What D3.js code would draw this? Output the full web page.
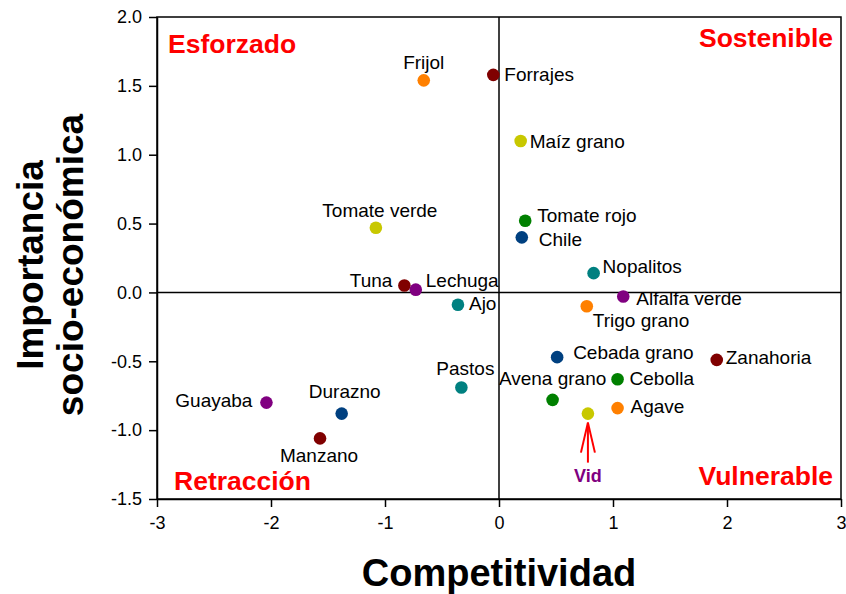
<!DOCTYPE html>
<html lang="es">
<head>
  <meta charset="UTF-8" />
  <title>Competitividad vs Importancia socio-económica</title>
  <script src="https://d3js.org/d3.v7.min.js"></script>
  <style>
    body { margin: 0; background: #fff; font-family: 'Liberation Sans', Arial, sans-serif; }
    .tick text { font-size: 18px; fill: #000; }
    .tick line, .domain { stroke: #000; stroke-width: 1.5px; }
    .lbl { font-size: 19px; fill: #000; }
    .quad { font-size: 26.5px; font-weight: bold; fill: #ff0000; }
    .title { font-size: 36px; font-weight: bold; fill: #000; }
  </style>
</head>
<body>
  <svg></svg>

  <script>
    // cultivos y coordenadas (competitividad, importancia)
    const crops = ["Frijol", "Forrajes", "Maíz grano", "Tomate verde", "Tomate rojo", "Chile",
      "Nopalitos", "Tuna", "Lechuga", "Ajo", "Alfalfa verde", "Trigo grano", "Cebada grano",
      "Zanahoria", "Pastos", "Avena grano", "Cebolla", "Agave", "Vid", "Durazno", "Manzano", "Guayaba"];
    const competitividad = [-0.66, -0.05, 0.19, -1.08, 0.23, 0.20, 0.83, -0.83, -0.73, -0.36, 1.09,
      0.77, 0.51, 1.91, -0.33, 0.47, 1.04, 1.04, 0.78, -1.38, -1.57, -2.04];
    const importancia = [1.54, 1.58, 1.10, 0.47, 0.52, 0.40, 0.14, 0.05, 0.02, -0.09, -0.03,
      -0.10, -0.47, -0.49, -0.69, -0.78, -0.63, -0.84, -0.88, -0.88, -1.06, -0.80];
    const colorGroup = ["orange", "darkred", "yellow", "yellow", "green", "blue", "teal", "darkred",
      "purple", "teal", "purple", "orange", "blue", "darkred", "teal", "green", "green", "orange",
      "yellow", "blue", "darkred", "purple"];

    const xTicks = [-3, -2, -1, 0, 1, 2, 3];
    const yTicks = [-1.5, -1.0, -0.5, 0.0, 0.5, 1.0, 1.5, 2.0];
    const quadrants = ["Esforzado", "Sostenible", "Retracción", "Vulnerable"];

    // dónde va cada etiqueta respecto a su punto: [anchor, dx, dy]
    const labelPos = {
      "Frijol": ["middle", 0, -11], "Forrajes": ["start", 11, 6], "Maíz grano": ["start", 9, 7],
      "Tomate verde": ["middle", 4, -11], "Tomate rojo": ["start", 12, 1], "Chile": ["start", 17, 9],
      "Nopalitos": ["start", 9, 0], "Tuna": ["end", -12, 1], "Lechuga": ["start", 10, -3],
      "Ajo": ["start", 11, 5], "Alfalfa verde": ["start", 13, 8], "Trigo grano": ["start", 6, 21],
      "Cebada grano": ["start", 16, 2], "Zanahoria": ["start", 9, 4], "Pastos": ["middle", 4, -12],
      "Avena grano": ["middle", 0, -15], "Cebolla": ["start", 12, 6], "Agave": ["start", 13, 5],
      "Durazno": ["middle", 3, -16], "Manzano": ["middle", -1, 24], "Guayaba": ["end", -14, 4]
    };
    const palette = {
      orange: "#ff8000", darkred: "#800000", yellow: "#c8c800", green: "#008000",
      blue: "#004080", teal: "#008080", purple: "#800080"
    };

    const W = 846, H = 594;
    const m = { top: 17, right: 5, bottom: 95, left: 157 };

    const svg = d3.select("svg").attr("width", W).attr("height", H);

    const x = d3.scaleLinear().domain([-3, 3]).range([m.left, W - m.right]);
    const y = d3.scaleLinear().domain([-1.5, 2]).range([H - m.bottom, m.top]);

    // marco
    svg.append("rect")
      .attr("x", x(-3)).attr("y", y(2))
      .attr("width", x(3) - x(-3)).attr("height", y(-1.5) - y(2))
      .attr("fill", "none").attr("stroke", "#000").attr("stroke-width", 1.5);

    svg.append("g")
      .attr("transform", `translate(0,${y(-1.5)})`)
      .call(d3.axisBottom(x).tickValues(xTicks).tickFormat(d => String(d))
        .tickSize(8).tickSizeOuter(0).tickPadding(9));

    svg.append("g")
      .attr("transform", `translate(${x(-3)},0)`)
      .call(d3.axisLeft(y).tickValues(yTicks).tickFormat(d => d.toFixed(1))
        .tickSize(8).tickSizeOuter(0).tickPadding(7));

    // ejes en cero
    svg.append("line")
      .attr("x1", x(0)).attr("x2", x(0)).attr("y1", y(2)).attr("y2", y(-1.5))
      .attr("stroke", "#000").attr("stroke-width", 1.5);
    svg.append("line")
      .attr("x1", x(-3)).attr("x2", x(3)).attr("y1", y(0)).attr("y2", y(0))
      .attr("stroke", "#000").attr("stroke-width", 1.5);

    // cuadrantes
    svg.append("text").attr("class", "quad").attr("x", 168).attr("y", 53).text(quadrants[0]);
    svg.append("text").attr("class", "quad").attr("x", 833).attr("y", 47)
      .attr("text-anchor", "end").text(quadrants[1]);
    svg.append("text").attr("class", "quad").attr("x", 174).attr("y", 490).text(quadrants[2]);
    svg.append("text").attr("class", "quad").attr("x", 833).attr("y", 485)
      .attr("text-anchor", "end").text(quadrants[3]);

    const data = crops.map((c, i) => ({
      name: c, cx: competitividad[i], cy: importancia[i], col: palette[colorGroup[i]]
    }));

    svg.append("g").selectAll("circle")
      .data(data)
      .join("circle")
      .attr("cx", d => x(d.cx))
      .attr("cy", d => y(d.cy))
      .attr("r", 6.3)
      .attr("fill", d => d.col);

    svg.append("g").selectAll("text")
      .data(data.filter(d => labelPos[d.name]))
      .join("text")
      .attr("class", "lbl")
      .attr("x", d => x(d.cx) + labelPos[d.name][1])
      .attr("y", d => y(d.cy) + labelPos[d.name][2])
      .attr("text-anchor", d => labelPos[d.name][0])
      .text(d => d.name);

    // flecha de la vid
    const vid = data.find(d => d.name === "Vid");
    const vx = x(vid.cx), vy = y(vid.cy) + 9;
    const arrow = svg.append("g").attr("stroke", "#ff0000").attr("stroke-width", 2).attr("fill", "none");
    arrow.append("line").attr("x1", vx).attr("y1", vy).attr("x2", vx).attr("y2", vy + 40);
    arrow.append("line").attr("x1", vx).attr("y1", vy).attr("x2", vx - 7).attr("y2", vy + 30);
    arrow.append("line").attr("x1", vx).attr("y1", vy).attr("x2", vx + 7).attr("y2", vy + 30);
    svg.append("text")
      .attr("x", vx).attr("y", vy + 59)
      .attr("text-anchor", "middle")
      .style("font-size", "18px").style("font-weight", "bold").style("fill", "#800080")
      .text("Vid");

    // títulos
    svg.append("text").attr("class", "title")
      .attr("x", x(0)).attr("y", 586).attr("text-anchor", "middle")
      .style("font-size", "38px")
      .text("Competitividad");

    const yt = svg.append("text").attr("class", "title")
      .attr("transform", "translate(43,265) rotate(-90)")
      .attr("text-anchor", "middle")
      .style("font-size", "37px");
    yt.append("tspan").attr("x", 0).attr("y", 0).text("Importancia");
    yt.append("tspan").attr("x", 0).attr("y", 40).text("socio-económica");
  </script>
</body>
</html>
